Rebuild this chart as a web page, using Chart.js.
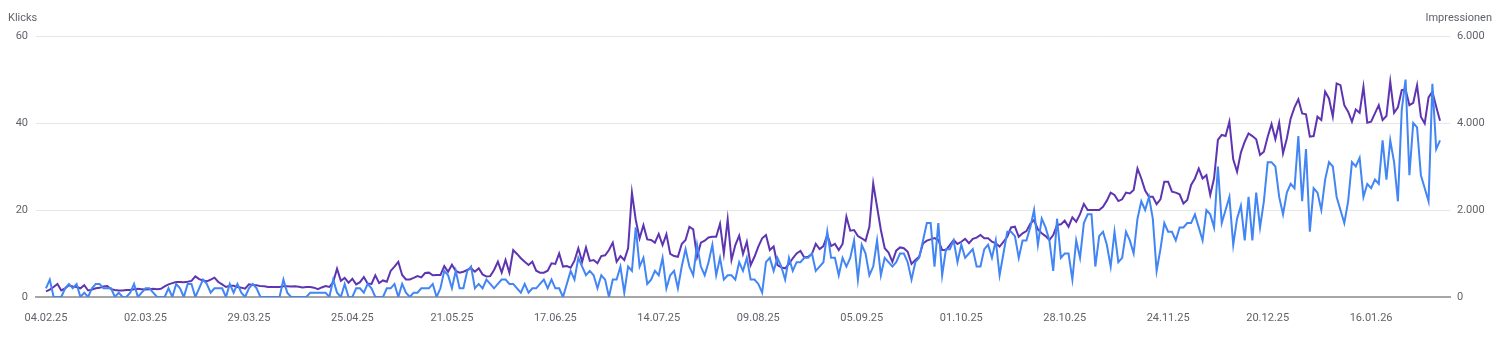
<!DOCTYPE html>
<html><head><meta charset="utf-8">
<script src="https://cdn.jsdelivr.net/npm/chart.js@4.4.1/dist/chart.umd.min.js"></script>
<style>html,body{margin:0;padding:0;background:#fff;}#wrap{position:relative;width:1502px;height:337px;}</style>
</head><body><div id="wrap"><canvas id="c" width="1502" height="337"></canvas></div>
<script>
const startDate = '2025-02-04';
const tickLabels = ['04.02.25','02.03.25','29.03.25','25.04.25','21.05.25','17.06.25','14.07.25','09.08.25','05.09.25','01.10.25','28.10.25','24.11.25','20.12.25','16.01.26'];
const leftTickValues = [0, 20, 40, 60];
const rightTickLabels = ['0', '2.000', '4.000', '6.000'];

const clicks = [
2,4,0,0,0,2,3,2,3,0,1,0,2,3,3,2,2,2,0,1,0,0,1,3,0,1,2,2,1,0,
0,0,2,0,3,2,0,3,3,0,2,4,3,1,2,2,2,0,3,1,3,1,0,2,3,2,0,0,0,0,0,
0,4,1,0,0,0,0,0,1,1,1,1,1,0,4,1,0,3,0,0,2,2,1,3,2,0,0,0,2,2,
3,0,3,1,0,1,1,2,2,2,3,0,2,6,5,2,6,2,2,6,7,2,3,2,4,3,2,3,4,4,3,
3,2,1,3,1,2,2,3,4,2,4,2,2,0,3,6,4,9,7,5,6,5,2,5,4,0,4,4,7,1,7,
6,16,7,9,3,4,6,5,9,2,5,6,2,7,11,7,5,12,7,5,8,12,5,9,4,5,5,4,8,6,
9,4,4,3,1,8,9,6,9,7,4,9,6,8,8,9,9,10,6,7,8,15,9,9,5,9,7,9,13,4,12,
10,5,7,13,5,9,8,7,8,10,10,8,4,8,9,13,17,17,7,17,5,11,11,13,8,12,9,10,11,7,
7,11,12,9,13,5,10,15,15,14,9,13,13,16,20,12,18,16,13,6,18,9,10,10,4,13,9,17,19,19,7,
14,15,12,7,15,8,9,15,13,10,18,22,20,23,18,6,11,17,15,15,13,16,16,17,17,19,16,13,20,19,
16,30,17,20,23,12,18,21,13,23,13,24,16,22,31,31,30,23,19,24,26,25,37,22,34,15,25,24,20,27,31,
30,23,20,17,22,31,30,32,23,26,25,27,26,36,27,36,31,22,43,50,28,40,39,28,25,22,49,34,36
];

const impressions = [
130,170,230,300,150,200,270,240,230,200,270,150,170,200,210,240,250,180,160,150,150,160,160,180,190,180,170,180,190,180,
190,245,290,320,345,345,340,350,370,475,410,380,360,400,445,345,290,230,260,260,230,215,190,290,275,270,250,245,230,230,230,
230,245,245,240,245,235,220,230,230,215,180,220,250,230,345,650,370,440,330,420,290,340,460,310,300,500,320,380,350,600,
700,810,505,405,405,440,480,450,550,560,500,505,505,710,580,740,600,560,580,620,660,580,660,520,470,480,620,810,560,850,560,
1080,990,890,810,735,810,605,560,560,605,775,760,1000,700,710,675,835,1120,810,1140,830,850,775,940,960,1080,1250,810,940,850,1120,
2400,1770,1350,1650,1325,1310,1250,1450,1195,1440,990,940,925,1220,1310,1615,1555,925,1250,1295,1370,1385,1385,1680,1000,1785,850,1195,1410,990,
1270,735,925,1160,1350,1425,1080,1160,735,680,660,760,890,1000,1060,910,925,990,1220,1100,1170,1425,1170,1220,1080,1220,1845,1525,1540,1400,1350,
1290,1615,2610,2075,1540,1120,1020,810,1065,1140,1120,1040,760,850,925,1230,1295,1325,1355,1310,1080,1080,1195,1310,1220,1270,1335,1235,1335,1365,
1425,1350,1350,1270,1235,1160,1270,1385,1600,1615,1385,1465,1515,1680,1770,1555,1465,1400,1310,1425,1655,1670,1755,1615,1830,1730,1905,2140,2000,2000,2000,
2000,2075,2215,2400,2345,2205,2245,2400,2380,2460,2955,2725,2445,2305,2305,2135,2245,2650,2650,2420,2400,2360,2150,2230,2575,2725,2955,2725,2800,2345,
2730,3610,3725,3700,4030,3165,2880,3320,3570,3760,3700,3625,3265,3340,3685,3975,3625,4005,3300,3645,4105,4360,4545,4220,4200,3685,3700,4145,4070,4720,4565,
4150,4910,4870,4410,4260,4030,4310,4235,4835,4005,4030,4220,4410,4070,4160,4950,4235,4360,4755,4770,4410,4465,4870,4145,3990,4590,4720,4375,4050
];

const DAY = 86400000;
const start = Date.parse(startDate + 'T00:00:00Z');
function dayIndex(lbl) {
  const [d, m, y] = lbl.split('.').map(Number);
  return Math.round((Date.UTC(2000 + y, m - 1, d) - start) / DAY);
}
const tickIdx = tickLabels.map(dayIndex);
const labelAt = {};
tickLabels.forEach((l, k) => { labelAt[tickIdx[k]] = l; });
const n = clicks.length;
const FONT = { family: 'Roboto, "Noto Sans", sans-serif', size: 11 };
const TXT = '#5f6368';

const titles = {
  id: 'titles',
  afterDraw(chart) {
    const c = chart.ctx;
    c.save();
    c.font = '11px Roboto, "Noto Sans", sans-serif';
    c.fillStyle = TXT;
    c.textBaseline = 'middle';
    c.textAlign = 'left';
    c.fillText('Klicks', 8, 18);
    c.textAlign = 'right';
    c.fillText('Impressionen', 1492, 18);
    c.restore();
  }
};

new Chart(document.getElementById('c'), {
  type: 'line',
  data: {
    datasets: [
      { label: 'Klicks', data: clicks.map((v, i) => ({ x: i, y: v })), yAxisID: 'y',
        borderColor: '#4285f4', borderWidth: 2, pointRadius: 0, tension: 0, fill: false },
      { label: 'Impressionen', data: impressions.map((v, i) => ({ x: i, y: v })), yAxisID: 'y1',
        borderColor: '#5e35b1', borderWidth: 2, pointRadius: 0, tension: 0, fill: false }
    ]
  },
  options: {
    responsive: false,
    animation: false,
    layout: { padding: { top: 36, left: 0, right: 0, bottom: 0 } },
    plugins: { legend: { display: false }, tooltip: { enabled: false } },
    scales: {
      x: {
        type: 'linear', min: -2.6, max: (n - 1) + 2.6,
        afterBuildTicks: s => { s.ticks = tickIdx.map(v => ({ value: v })); },
        afterFit: s => { s.height = 40; },
        grid: { display: false, drawTicks: false },
        border: { display: true, color: '#a6a6a6', width: 2 },
        ticks: { autoSkip: false, maxRotation: 0, padding: 15, color: TXT, font: FONT,
          callback: v => labelAt[v] ?? null }
      },
      y: {
        position: 'left', min: 0, max: 60,
        afterBuildTicks: s => { s.ticks = leftTickValues.map(v => ({ value: v })); },
        afterFit: s => { s.width = 36; },
        grid: { drawTicks: false, color: c => c.tick && c.tick.value === 0 ? 'rgba(0,0,0,0)' : '#e6e6e6', lineWidth: 1 },
        border: { display: false },
        ticks: { padding: 8, color: TXT, font: FONT }
      },
      y1: {
        position: 'right', min: 0, max: 6000,
        afterBuildTicks: s => { s.ticks = leftTickValues.map(v => ({ value: v * 100 })); },
        afterFit: s => { s.width = 52; },
        grid: { drawOnChartArea: false, drawTicks: false },
        border: { display: false },
        ticks: { padding: 7, color: TXT, font: FONT, callback: (v, k) => rightTickLabels[k] }
      }
    }
  },
  plugins: [titles]
});
</script></body></html>
